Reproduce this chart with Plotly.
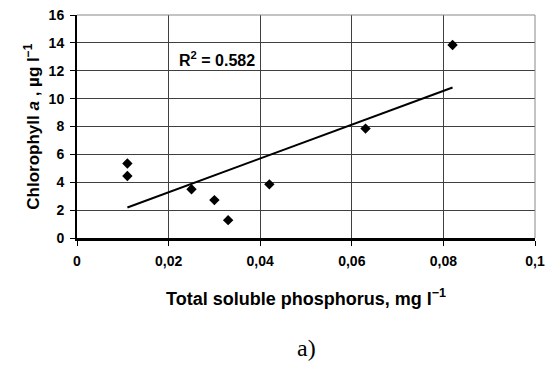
import numpy as np
import plotly.graph_objects as go

phosphorus = [0.011, 0.011, 0.025, 0.030, 0.033, 0.042, 0.063, 0.082]
chlorophyll = [5.35, 4.45, 3.5, 2.72, 1.28, 3.85, 7.85, 13.85]
x_ticks = [0, 0.02, 0.04, 0.06, 0.08, 0.1]
x_tick_labels = ["0", "0,02", "0,04", "0,06", "0,08", "0,1"]
y_ticks = [0, 2, 4, 6, 8, 10, 12, 14, 16]
r2_label = "0.582"

xa = np.array(phosphorus)
ya = np.array(chlorophyll)
slope, intercept = np.polyfit(xa, ya, 1)
fit_x = [float(xa.min()), float(xa.max())]
fit_y = [slope * v + intercept for v in fit_x]

fig = go.Figure()
fig.add_trace(go.Scatter(x=fit_x, y=fit_y, mode="lines",
                         line=dict(color="black", width=2), showlegend=False))
fig.add_trace(go.Scatter(x=phosphorus, y=chlorophyll, mode="markers",
                         marker=dict(symbol="diamond", size=8, color="black"),
                         showlegend=False))

font = "Liberation Sans, Arial, sans-serif"
fig.update_layout(
    width=551, height=367,
    margin=dict(l=77, r=16, t=15, b=129),
    paper_bgcolor="white", plot_bgcolor="white",
    font=dict(family=font, color="black"),
    xaxis=dict(range=[0, 0.1], tickvals=x_ticks, ticktext=x_tick_labels,
               showgrid=True, gridcolor="#404040", gridwidth=1,
               showline=True, linecolor="black", linewidth=3,
               ticks="outside", ticklen=5, tickcolor="black",
               ticklabelstandoff=3,
               tickfont=dict(size=14, family=font, weight="bold"),
               zeroline=False, automargin=False),
    yaxis=dict(range=[0, 16], tickvals=y_ticks,
               showgrid=True, gridcolor="#404040", gridwidth=1,
               showline=True, linecolor="black", linewidth=2,
               ticks="outside", ticklen=5, tickcolor="black",
               ticklabelstandoff=3,
               tickfont=dict(size=14, family=font, weight="bold"),
               zeroline=False, automargin=False),
)
fig.add_shape(type="line", xref="paper", yref="paper", x0=0, y0=1, x1=1, y1=1,
              line=dict(color="#888888", width=1))
fig.add_shape(type="line", xref="paper", yref="paper", x0=1, y0=0, x1=1, y1=1,
              line=dict(color="#888888", width=1))
fig.add_annotation(x=0.5, y=-0.265, xref="paper", yref="paper", showarrow=False,
                   xanchor="center", yanchor="middle",
                   text="<b>Total soluble phosphorus, mg l<sup>−1</sup></b>",
                   font=dict(size=18, family=font))
fig.add_annotation(x=-0.1, y=0.5, xref="paper", yref="paper", showarrow=False,
                   xanchor="center", yanchor="middle", textangle=-90,
                   text="<b>Chlorophyll <i>a</i> , µg l<sup>−1</sup></b>",
                   font=dict(size=17, family=font))
fig.add_annotation(x=0.0306, y=12.84, xref="x", yref="y", showarrow=False,
                   text=f"<b>R<sup>2</sup> = {r2_label}</b>",
                   font=dict(size=16, family=font))
fig.add_annotation(x=0.5, y=-0.495, xref="paper", yref="paper", showarrow=False,
                   xanchor="center", yanchor="middle",
                   text="a)", font=dict(size=24, family="Liberation Serif, Times New Roman, serif"))
fig.write_html("out.html", config={"displayModeBar": False},
               post_script="document.body.style.margin='0px';document.body.style.overflow='hidden';")
